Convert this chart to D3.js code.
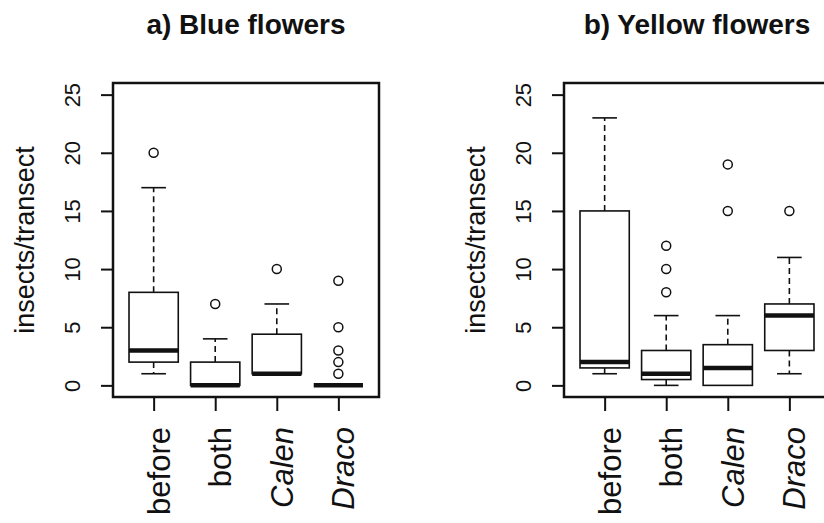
<!DOCTYPE html>
<html>
<head>
<meta charset="utf-8">
<script src="https://cdn.jsdelivr.net/npm/d3@7"></script>
<style>
  body { margin: 0; background: #fff; }
  svg { display: block; overflow: hidden; }
  text { font-family: "Liberation Sans", Arial, sans-serif; fill: #111; }
</style>
</head>
<body>
<div id="chart"></div>
<script>
const width = 824
const height = 523

// data
const groups = ["before", "both", "Calen", "Draco"]
const yTicks = [0, 5, 10, 15, 20, 25]

const blueLow = [1, 0, 1, 0]
const blueQ1 = [2, 0, 1, 0]
const blueMedian = [3, 0, 1, 0]
const blueQ3 = [8, 2, 4.4, 0]
const blueHigh = [17, 4, 7, 0]
const blueOutliers = [[20], [7], [10], [9, 5, 3, 2, 1]]

const yellowLow = [1, 0, 0, 1]
const yellowQ1 = [1.5, 0.5, 0, 3]
const yellowMedian = [2, 1, 1.5, 6]
const yellowQ3 = [15, 3, 3.5, 7]
const yellowHigh = [23, 6, 6, 11]
const yellowOutliers = [[], [12, 10, 8], [19, 15], [15]]

const panels = [
  {title: "a) Blue flowers", left: 113, low: blueLow, q1: blueQ1, med: blueMedian, q3: blueQ3, high: blueHigh, out: blueOutliers},
  {title: "b) Yellow flowers", left: 564, low: yellowLow, q1: yellowQ1, med: yellowMedian, q3: yellowQ3, high: yellowHigh, out: yellowOutliers}
]

const plotTop = 83
const plotBottom = 397
const plotW = 266

let svg = d3.select("#chart")
            .append("svg")
            .attr("width", width)
            .attr("height", height)

svg.append("rect").attr("width", width).attr("height", height).attr("fill", "#fff")

// R style ranges: 4% padding on both sides
let x = d3.scaleLinear().domain([0.34, 4.66]).range([0, plotW])
let y = d3.scaleLinear().domain([-1, 26]).range([plotBottom, plotTop])

const boxW = x(1.4) - x(0.6)

panels.forEach(function(p) {
  let g = svg.append("g").attr("transform", "translate(" + p.left + ",0)")

  // title
  g.append("text")
   .attr("x", plotW / 2)
   .attr("y", 34)
   .attr("text-anchor", "middle")
   .style("font-size", "28px")
   .style("font-weight", "bold")
   .text(p.title)

  // y axis
  let yAxis = g.append("g")
               .call(d3.axisLeft(y).tickValues(yTicks).tickSize(12).tickSizeOuter(0))
  yAxis.select(".domain").remove()
  yAxis.selectAll("line").attr("stroke", "#111").attr("stroke-width", 2)
  yAxis.selectAll("text")
       .attr("x", null).attr("dy", null)
       .attr("text-anchor", "middle")
       .attr("transform", "translate(-33,0) rotate(-90)")
       .style("font-size", "22px")
       .style("font-family", "Liberation Sans, Arial, sans-serif")
       .attr("fill", "#111")

  g.append("text")
   .attr("text-anchor", "middle")
   .attr("transform", "translate(-79,240) rotate(-90)")
   .style("font-size", "27px")
   .text("insects/transect")

  // x axis
  let xAxis = g.append("g")
               .attr("transform", "translate(0," + plotBottom + ")")
               .call(d3.axisBottom(x).tickValues([1, 2, 3, 4]).tickFormat(function(d) { return groups[d - 1] }).tickSize(14).tickSizeOuter(0))
  xAxis.select(".domain").remove()
  xAxis.selectAll("line").attr("stroke", "#111").attr("stroke-width", 2)
  xAxis.selectAll("text")
       .attr("y", null).attr("dy", null)
       .attr("x", -30)
       .attr("dy", "0.5em")
       .attr("text-anchor", "end")
       .attr("transform", "rotate(-90)")
       .style("font-size", "31px")
       .style("font-family", "Liberation Sans, Arial, sans-serif")
       .style("font-style", function(d) { return d > 2 ? "italic" : "normal" })
       .attr("fill", "#111")

  // boxes
  for (var i = 0; i < groups.length; i++) {
    let cx = x(i + 1)
    let b = g.append("g").attr("class", "box")

    // whiskers
    if (p.high[i] > p.q3[i]) {
      b.append("line").attr("x1", cx).attr("x2", cx).attr("y1", y(p.q3[i])).attr("y2", y(p.high[i]))
       .attr("stroke", "#111").attr("stroke-width", 1.6).attr("stroke-dasharray", "6,4")
      b.append("line").attr("x1", cx - boxW / 4).attr("x2", cx + boxW / 4).attr("y1", y(p.high[i])).attr("y2", y(p.high[i]))
       .attr("stroke", "#111").attr("stroke-width", 1.6)
    }
    if (p.low[i] < p.q1[i]) {
      b.append("line").attr("x1", cx).attr("x2", cx).attr("y1", y(p.q1[i])).attr("y2", y(p.low[i]))
       .attr("stroke", "#111").attr("stroke-width", 1.6).attr("stroke-dasharray", "6,4")
      b.append("line").attr("x1", cx - boxW / 4).attr("x2", cx + boxW / 4).attr("y1", y(p.low[i])).attr("y2", y(p.low[i]))
       .attr("stroke", "#111").attr("stroke-width", 1.6)
    }

    b.append("rect")
     .attr("x", cx - boxW / 2)
     .attr("y", y(p.q3[i]))
     .attr("width", boxW)
     .attr("height", y(p.q1[i]) - y(p.q3[i]))
     .attr("fill", "none")
     .attr("stroke", "#111")
     .attr("stroke-width", 1.6)

    b.append("line")
     .attr("x1", cx - boxW / 2).attr("x2", cx + boxW / 2)
     .attr("y1", y(p.med[i])).attr("y2", y(p.med[i]))
     .attr("stroke", "#111").attr("stroke-width", 4.5)

    b.selectAll("circle")
     .data(p.out[i])
     .enter()
     .append("circle")
     .attr("cx", cx)
     .attr("cy", function(d) { return y(d) })
     .attr("r", 4.5)
     .attr("fill", "none")
     .attr("stroke", "#111")
     .attr("stroke-width", 1.5)
  }

  // frame
  g.append("rect")
   .attr("x", 0).attr("y", plotTop)
   .attr("width", plotW).attr("height", plotBottom - plotTop)
   .attr("fill", "none")
   .attr("stroke", "#111")
   .attr("stroke-width", 2.5)
})
</script>
</body>
</html>
